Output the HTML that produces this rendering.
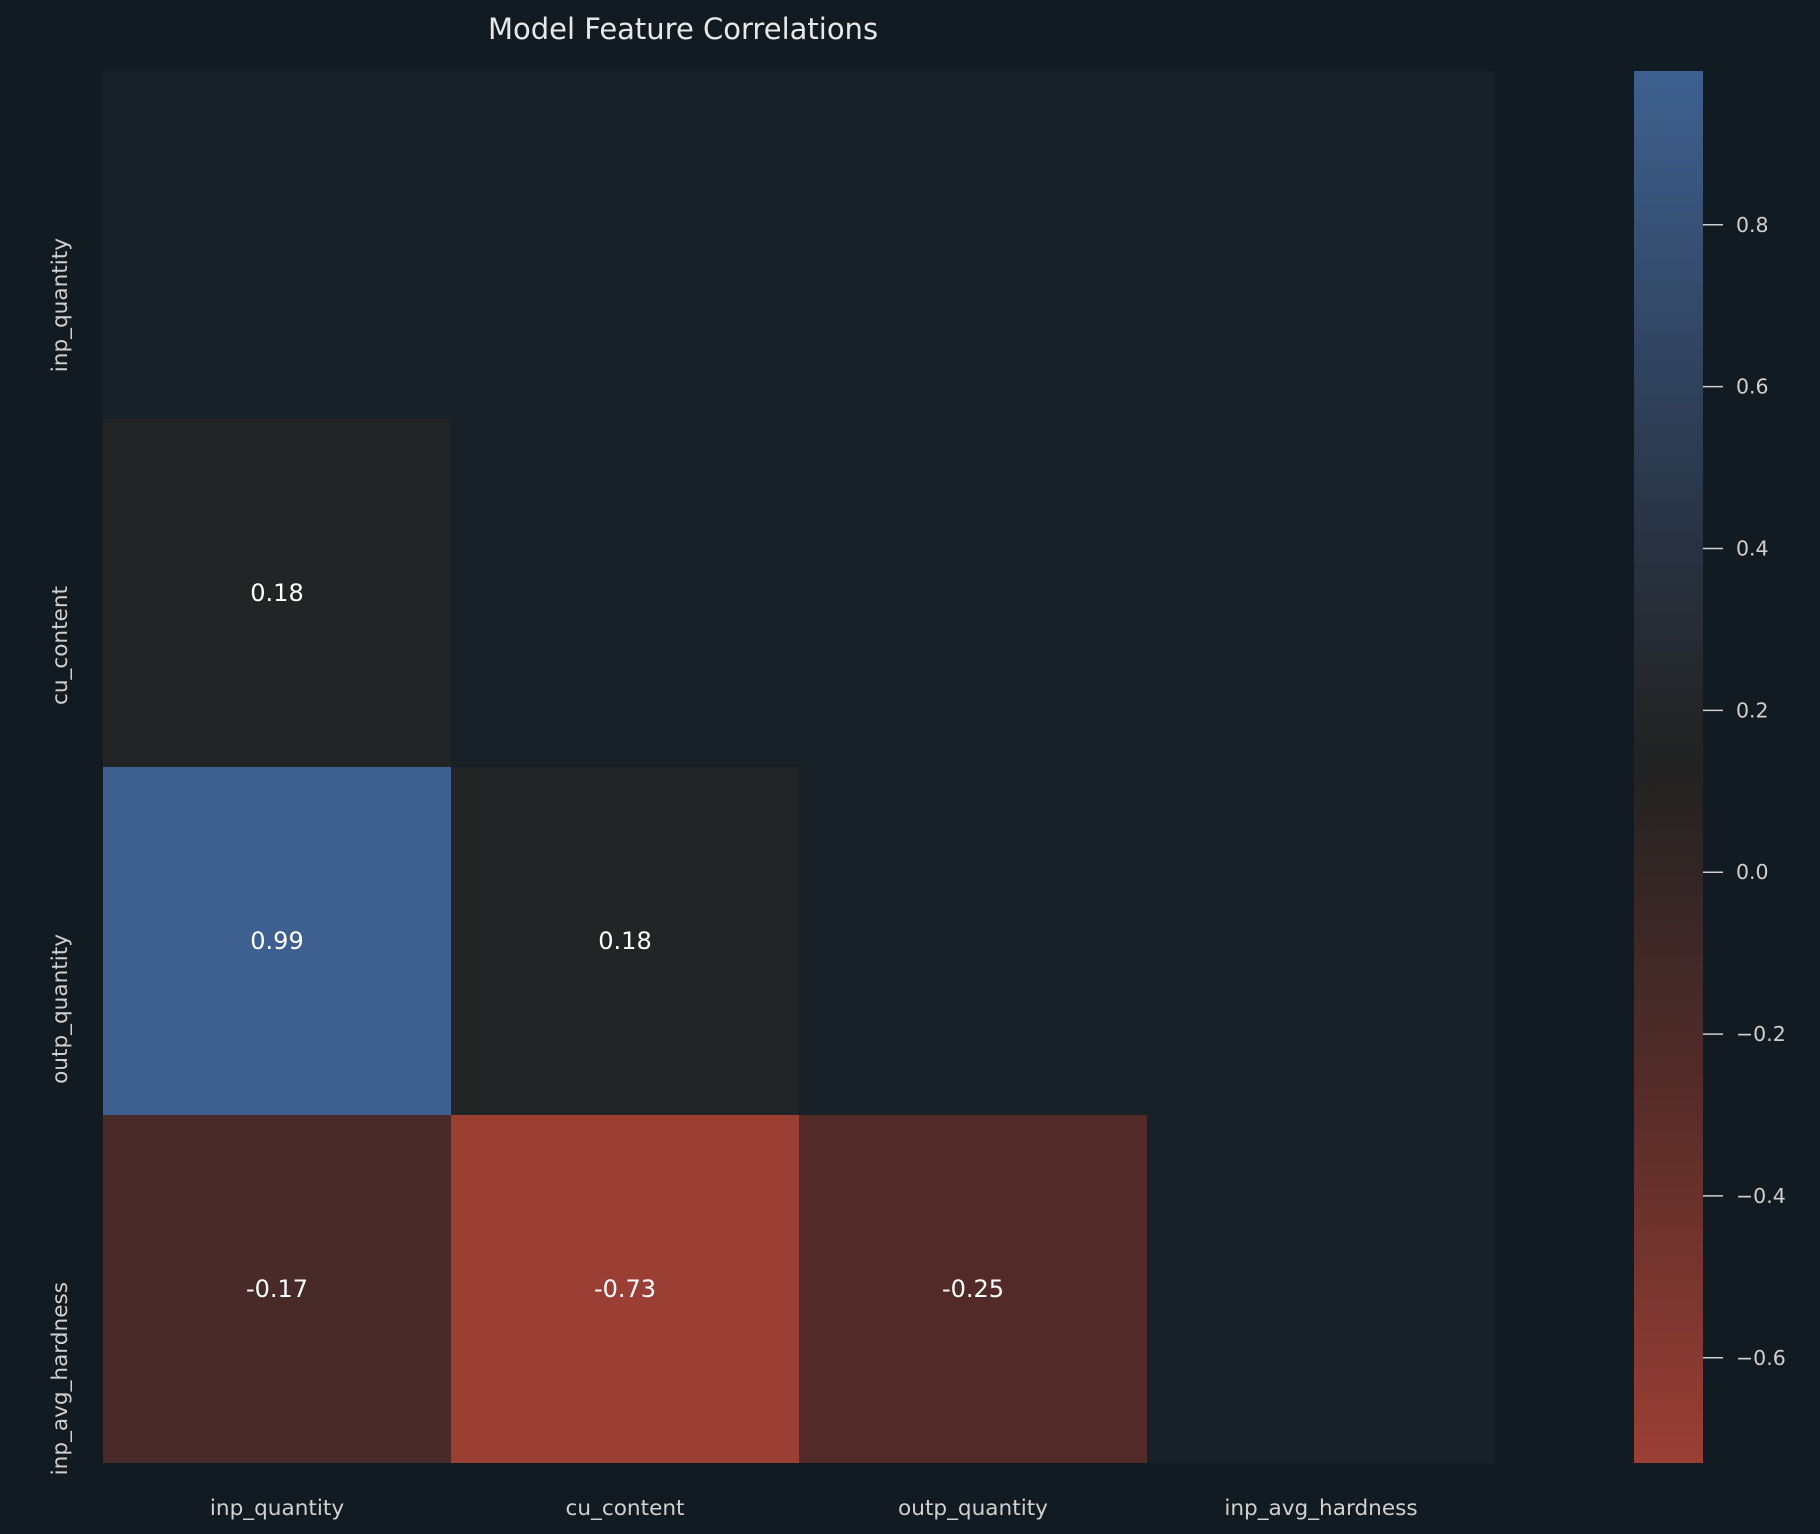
<!DOCTYPE html>
<html><head><meta charset="utf-8"><style>
body{margin:0;background:#121b21;}
svg{display:block;font-family:"DejaVu Sans","Liberation Sans",sans-serif;}
</style></head><body>
<svg id="chart" width="1820" height="1534" viewBox="0 0 1820 1534" xmlns="http://www.w3.org/2000/svg">
<rect width="1820" height="1534" fill="#121b21"/>
<text x="683" y="39" font-size="29" fill="#e8e8e8" text-anchor="middle">Model Feature Correlations</text>
<rect x="103" y="71" width="1392" height="1392" fill="#172127"/>
<g id="cells"></g>
<g id="labels"></g>
<defs><linearGradient id="cbgrad" x1="0" y1="1" x2="0" y2="0"></linearGradient></defs>
<rect x="1634" y="71" width="69" height="1392" fill="url(#cbgrad)"/>
<g id="cbticks"></g>
</svg>
<script>
const categories = ["inp_quantity","cu_content","outp_quantity","inp_avg_hardness"];
const rowCuContent = [0.18];
const rowOutpQuantity = [0.99, 0.18];
const rowInpAvgHardness = [-0.17, -0.73, -0.25];
const cbTicks = [0.8,0.6,0.4,0.2,0.0,-0.2,-0.4,-0.6];
const vmin = -0.73, vmax = 0.99;

const rows = [[], rowCuContent, rowOutpQuantity, rowInpAvgHardness];
const NS="http://www.w3.org/2000/svg";
const x0=103, y0=71, cell=348, cbTop=71, cbBot=1463;
const stops=[[-0.73,[155,63,52]],[-0.25,[82,43,40]],[-0.17,[72,43,40]],[0.13,[34,34,34]],[0.18,[35,36,38]],[0.4,[40,50,65]],[0.99,[62,96,144]]];
function color(v){
  if(v<=stops[0][0])return rgb(stops[0][1]);
  for(let i=1;i<stops.length;i++){if(v<=stops[i][0]){const a=stops[i-1],b=stops[i];const t=(v-a[0])/(b[0]-a[0]);return rgb(a[1].map((c,k)=>c+(b[1][k]-c)*t));}}
  return rgb(stops[stops.length-1][1]);
}
function rgb(c){return "rgb("+c.map(Math.round).join(",")+")";}
function xPos(i){return x0+i*cell;}
function yPos(i){return y0+i*cell;}
function cbY(v){return cbBot-(v-vmin)/(vmax-vmin)*(cbBot-cbTop);}
function mk(tag,attrs,parent){const e=document.createElementNS(NS,tag);for(const k in attrs)e.setAttribute(k,attrs[k]);parent.appendChild(e);return e;}
const cg=document.getElementById('cells');
rows.forEach((r,ri)=>r.forEach((v,ci)=>{
  const rc=mk('rect',{x:xPos(ci),y:yPos(ri),width:cell,height:cell,fill:color(v)},cg);
  
  
  const t=mk('text',{x:xPos(ci)+cell/2,y:yPos(ri)+cell/2+8,'font-size':24,fill:'#ffffff','text-anchor':'middle'},cg);
  t.textContent=v.toFixed(2);
  
  
}));
const lg=document.getElementById('labels');
categories.forEach((c,i)=>{
  const tx=mk('text',{x:xPos(i)+cell/2,y:1515,'font-size':21.6,fill:'#d0d0d0','text-anchor':'middle'},lg);
  tx.textContent=c;
  
  
  const cy=yPos(i)+cell/2-7;
  const ty=mk('text',{x:67,y:cy,'font-size':21.6,fill:'#d0d0d0','text-anchor':'end',transform:'rotate(-90 67 '+cy+')'},lg);
  ty.textContent=c;
  
  
});
const grad=document.getElementById('cbgrad');
for(let i=0;i<=40;i++){const v=vmin+(vmax-vmin)*i/40;mk('stop',{offset:(i/40),'stop-color':color(v)},grad);}
const tg=document.getElementById('cbticks');
cbTicks.forEach(v=>{
  const y=cbY(v);
  const l=mk('line',{x1:1703,x2:1723,y1:y,y2:y,stroke:'#d0d0d0','stroke-width':1.5},tg);
  
  
  const t=mk('text',{x:1736,y:y+7,'font-size':20.5,fill:'#d0d0d0'},tg);
  t.textContent=(v<0?'\u2212':'')+Math.abs(v).toFixed(1);
  
  
});
</script>
</body></html>
